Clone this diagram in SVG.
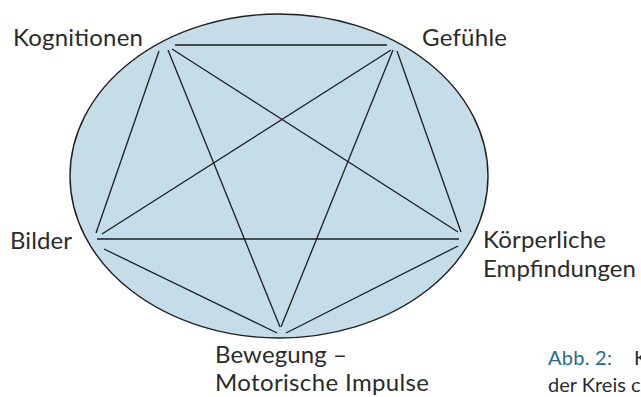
<svg xmlns="http://www.w3.org/2000/svg" width="641" height="397" viewBox="0 0 641 397">
<style>
.lbl{font-family:Lato,"Open Sans",sans-serif;font-size:24px;fill:#2b2b2b}
.cap{font-family:Lato,"Open Sans",sans-serif;font-size:20px;fill:#2b2b2b}
.edge{stroke:#1e1e1e;stroke-width:1.3;fill:none;stroke-linecap:butt}
</style>
<rect width="641" height="397" fill="#ffffff"/>
<g id="circle">
<ellipse cx="279" cy="176" rx="209" ry="162" fill="#c5dde8" stroke="#1e1e1e" stroke-width="1.4"/>
</g>
<g id="connectors">
<line class="edge" x1="175" y1="45" x2="387" y2="45"/>
<line class="edge" x1="159" y1="51" x2="96" y2="233"/>
<line class="edge" x1="168" y1="50" x2="280" y2="327"/>
<line class="edge" x1="172" y1="49" x2="458" y2="232"/>
<line class="edge" x1="391" y1="50" x2="102" y2="234"/>
<line class="edge" x1="393" y1="50" x2="281" y2="327"/>
<line class="edge" x1="397" y1="51" x2="461" y2="232"/>
<line class="edge" x1="97" y1="239" x2="459" y2="239"/>
<line class="edge" x1="104" y1="249" x2="277" y2="333"/>
<line class="edge" x1="286" y1="333" x2="458" y2="246"/>
</g>
<g id="kognitionen"><text class="lbl" x="13" y="46" textLength="130">Kognitionen</text></g>
<g id="gefuehle"><text class="lbl" x="422" y="46" textLength="85">Gefühle</text></g>
<g id="bilder"><text class="lbl" x="10" y="249" textLength="62">Bilder</text></g>
<g id="koerperliche"><text class="lbl" x="483" y="248" textLength="123">Körperliche</text><text class="lbl" x="483" y="277" textLength="153">Empfindungen</text></g>
<g id="bewegung"><text class="lbl" x="215" y="363" textLength="132">Bewegung –</text><text class="lbl" x="215" y="391" textLength="214">Motorische Impulse</text></g>
<g id="caption"><text class="cap" x="548" y="365" textLength="64"><tspan fill="#1f6b8e">Abb. 2:</tspan></text><text class="cap" x="634" y="365">K</text><text class="cap" x="548" y="392">der Kreis c</text></g>
</svg>
